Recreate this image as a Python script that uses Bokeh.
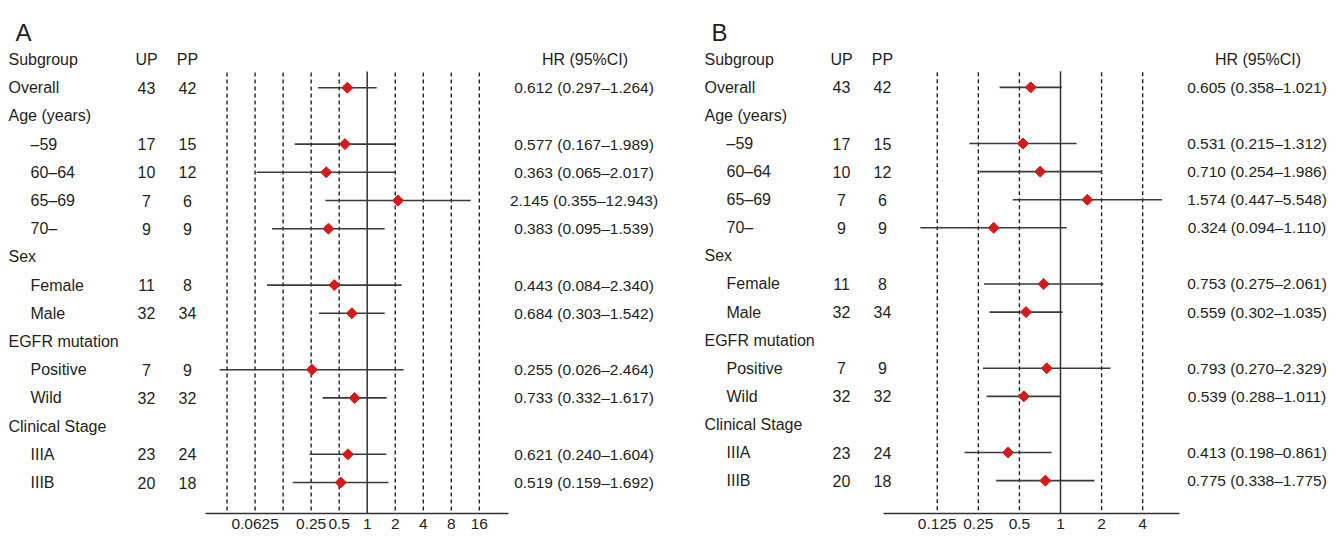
import numpy as np
from bokeh.plotting import figure
from bokeh.models import Range1d, FixedTicker
from bokeh.layouts import row
from bokeh.core.properties import value
from bokeh.embed import file_html
from bokeh.resources import INLINE

# ---------------- data ----------------
subgroups = ["Overall", "Age (years)", "\u201359", "60\u201364", "65\u201369", "70\u2013",
             "Sex", "Female", "Male", "EGFR mutation", "Positive", "Wild",
             "Clinical Stage", "IIIA", "IIIB"]
indented = [False, False, True, True, True, True, False, True, True, False, True, True,
            False, True, True]
up_n = [43, None, 17, 10, 7, 9, None, 11, 32, None, 7, 32, None, 23, 20]
pp_n = [42, None, 15, 12, 6, 9, None, 8, 34, None, 9, 32, None, 24, 18]
data_rows = [1, 3, 4, 5, 6, 8, 9, 11, 12, 14, 15]

hr_a = [0.612, 0.577, 0.363, 2.145, 0.383, 0.443, 0.684, 0.255, 0.733, 0.621, 0.519]
lo_a = [0.297, 0.167, 0.065, 0.355, 0.095, 0.084, 0.303, 0.026, 0.332, 0.240, 0.159]
hi_a = [1.264, 1.989, 2.017, 12.943, 1.539, 2.340, 1.542, 2.464, 1.617, 1.604, 1.692]

hr_b = [0.605, 0.531, 0.710, 1.574, 0.324, 0.753, 0.559, 0.793, 0.539, 0.413, 0.775]
lo_b = [0.358, 0.215, 0.254, 0.447, 0.094, 0.275, 0.302, 0.270, 0.288, 0.198, 0.338]
hi_b = [1.021, 1.312, 1.986, 5.548, 1.110, 2.061, 1.035, 2.329, 1.011, 0.861, 1.775]

ticks_a = [0.0625, 0.25, 0.5, 1, 2, 4, 8, 16]
tick_labels_a = ["0.0625", "0.25", "0.5", "1", "2", "4", "8", "16"]
dashes_a = [1/32, 1/16, 1/8, 0.25, 0.5, 2, 4, 8, 16]

ticks_b = [0.125, 0.25, 0.5, 1, 2, 4]
tick_labels_b = ["0.125", "0.25", "0.5", "1", "2", "4"]
dashes_b = [0.125, 0.25, 0.5, 2, 4]

# ---------------- layout / style ----------------
FONT = value("Liberation Sans")
FS = "15.5px"
FS_LAB = "16px"
TXT = "#231f20"
H = 538
ROW0, ROWH = 59.0, 28.2          # page y of row 0 (header) and row pitch


def ydata(page_y):
    return (page_y - ROW0) / ROWH


def make_panel(letter, left, width, x1_page, ppd, axis_lo, axis_hi, axis_y,
               lab_x0, up_x, pp_x, hr_x, hr, lo, hi, ticks, tick_labels, dashes):
    def xdata(page_x):
        return 2.0 ** ((page_x - x1_page) / ppd)

    frame_h = axis_y
    p = figure(width=width, height=H, x_axis_type="log",
               x_range=Range1d(xdata(left), xdata(left + width)),
               y_range=Range1d(ydata(axis_y), ydata(0)),
               output_backend="svg", toolbar_location=None,
               y_axis_location=None,
               min_border_left=0, min_border_right=0, min_border_top=0,
               min_border_bottom=H - frame_h)
    p.outline_line_color = None
    p.grid.visible = False

    top = ydata(72)
    bottom = ydata(axis_y)
    # dashed reference lines
    p.segment(x0=dashes, x1=dashes, y0=[top] * len(dashes), y1=[bottom] * len(dashes),
              line_color="#222222", line_width=1.4, line_dash="4 3")
    # solid line at HR = 1
    p.segment(x0=[1], x1=[1], y0=[ydata(71)], y1=[bottom],
              line_color="#333333", line_width=1.5)

    ys = data_rows
    p.segment(x0=lo, x1=hi, y0=ys, y1=ys, line_color="#3a3a3a", line_width=1.6)
    p.scatter(x=hr, y=ys, marker="square", angle=np.pi / 4, size=7.8,
              fill_color="#d41a1a", line_color="#d41a1a")

    # axis
    ax = p.xaxis[0]
    ax.ticker = FixedTicker(ticks=ticks)
    ax.major_label_overrides = {float(t): s for t, s in zip(ticks, tick_labels)}
    ax.bounds = (xdata(axis_lo), xdata(axis_hi))
    ax.axis_line_color = "#333333"
    ax.axis_line_width = 1.5
    ax.major_tick_out = 0
    ax.major_tick_in = 0
    ax.minor_tick_out = 0
    ax.minor_tick_in = 0
    ax.major_label_standoff = 5
    ax.major_label_text_font = "Liberation Sans"
    ax.major_label_text_font_size = FS
    ax.major_label_text_color = TXT

    # panel letter
    p.text(x=[lab_x0 and xdata(lab_x0 + 15)], y=[ydata(32)], text=[letter], text_font=FONT,
           text_font_size="24px", text_color=TXT, text_align="center",
           text_baseline="alphabetic")

    # header
    p.text(x=[xdata(lab_x0), xdata(up_x), xdata(pp_x), xdata(hr_x + 1)],
           y=[0, 0, 0, 0], text=["Subgroup", "UP", "PP", "HR (95%CI)"],
           text_font=FONT, text_font_size=FS_LAB, text_color=TXT,
           text_align=["left", "center", "center", "center"],
           text_baseline="middle")

    # subgroup labels
    lab_x = [xdata(lab_x0 + (22 if ind else 0)) for ind in indented]
    lab_y = list(range(1, len(subgroups) + 1))
    p.text(x=lab_x, y=lab_y, text=subgroups, text_font=FONT, text_font_size=FS_LAB,
           text_color=TXT, text_align="left", text_baseline="middle")

    # counts
    ny = [i + 1 for i, v in enumerate(up_n) if v is not None]
    ups = [str(v) for v in up_n if v is not None]
    pps = [str(v) for v in pp_n if v is not None]
    p.text(x=[xdata(up_x)] * len(ny), y=ny, text=ups, text_font=FONT,
           text_font_size=FS_LAB, text_color=TXT, text_align="center", text_baseline="middle")
    p.text(x=[xdata(pp_x)] * len(ny), y=ny, text=pps, text_font=FONT,
           text_font_size=FS_LAB, text_color=TXT, text_align="center", text_baseline="middle")

    # HR text
    hr_txt = [f"{h:.3f} ({l:.3f}\u2013{u:.3f})" for h, l, u in zip(hr, lo, hi)]
    p.text(x=[xdata(hr_x)] * len(ys), y=ys, text=hr_txt, text_font=FONT,
           text_font_size=FS, text_color=TXT, text_align="center", text_baseline="middle")
    return p


pA = make_panel("A", 0, 704, 366.7, 28.03, 205, 508, 513,
                8, 146, 187, 583.5, hr_a, lo_a, hi_a, ticks_a, tick_labels_a, dashes_a)
pB = make_panel("B", 704, 630, 1060.0, 41.08, 882.7, 1179.3, 515,
                704, 841, 882, 1256.5, hr_b, lo_b, hi_b, ticks_b, tick_labels_b, dashes_b)

layout = row(pA, pB)
open("out.html", "w").write(file_html(layout, INLINE))
